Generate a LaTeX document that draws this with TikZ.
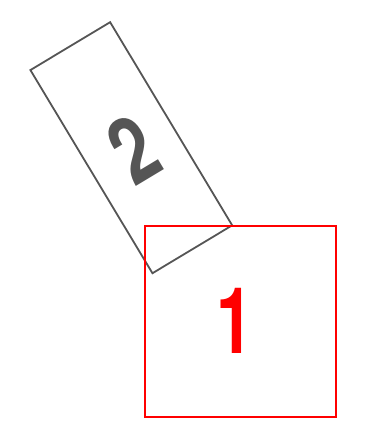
\documentclass[tikz,border=0pt]{standalone}
\usepackage{fontspec}
\setmainfont{TeX Gyre Heros}
\definecolor{boxgray}{HTML}{555555}
\definecolor{boxred}{HTML}{FF0000}
\begin{document}
\begin{tikzpicture}[x=1pt,y=1pt,
  graybox/.style={draw=boxgray,line width=1.8pt,minimum width=93pt,minimum height=237pt,inner sep=0pt,rotate=31},
  redbox/.style={draw=boxred,line width=2pt,minimum size=191pt,inner sep=0pt},
  digit/.style={font=\fontsize{92}{92}\selectfont\bfseries,inner sep=0pt}]
\useasboundingbox (0,0) rectangle (380,429);
\node[graybox] (r2) at (131.3,281.3) {};
\node[digit,text=boxgray,rotate=31] (t2) at (134,280) {\scalebox{0.74}[1]{2}};
\node[redbox] (r1) at (240.75,107.75) {};
\node[digit,text=boxred] (t1) at (235,108) {\scalebox{0.72}[1]{1}};
\end{tikzpicture}
\end{document}
